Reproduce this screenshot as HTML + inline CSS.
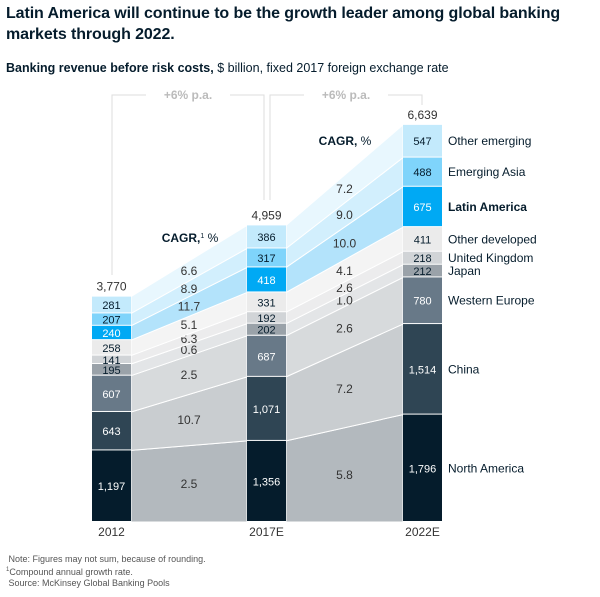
<!DOCTYPE html>
<html><head><meta charset="utf-8"><style>
body{margin:0;background:#fff;font-family:"Liberation Sans",sans-serif;}
</style></head><body>
<div style="position:relative;width:600px;height:597px;overflow:hidden">
<div style="position:absolute;left:6px;top:3px;font-size:16px;letter-spacing:-0.1px;font-weight:bold;color:#051c2c;line-height:21px;width:594px">Latin America will continue to be the growth leader among global banking markets through 2022.</div>
<div style="position:absolute;left:6px;top:61px;font-size:12.5px;color:#051c2c"><b>Banking revenue before risk costs,</b> $ billion, fixed 2017 foreign exchange rate</div>
<svg id="chart" width="600" height="597" style="position:absolute;left:0;top:0" font-family="Liberation Sans, sans-serif"></svg>
<div style="position:absolute;left:6px;top:554px;font-size:9px;color:#555;line-height:11px">&nbsp;Note: Figures may not sum, because of rounding.<br><sup style="font-size:6px">1</sup>Compound annual growth rate.<br>&nbsp;Source: McKinsey Global Banking Pools</div>
</div>
<script>
const years=["2012","2017E","2022E"];
const regions=["North America","China","Western Europe","Japan","United Kingdom","Other developed","Latin America","Emerging Asia","Other emerging"];
const v2012=[1197,643,607,195,141,258,240,207,281];
const v2017=[1356,1071,687,202,192,331,418,317,386];
const v2022=[1796,1514,780,212,218,411,675,488,547];
const totals=["3,770","4,959","6,639"];
const cagr1=["2.5","10.7","2.5","0.6","6.3","5.1","11.7","8.9","6.6"];
const cagr2=["5.8","7.2","2.6","1.0","2.6","4.1","10.0","9.0","7.2"];
const growthLabels=["+6% p.a.","+6% p.a."];
const segColors=["#051c2c","#2f4554","#687988","#9aa2a9","#d1d4d7","#ebebeb","#00a9f4","#7fd4fb","#c3eafc"];
const bandColors=["#b3b9be","#c9cdd0","#d7dadc","#e3e5e7","#ececed","#f4f4f4","#b3e3fb","#d2effd","#e8f7fe"];
const textColors=["#fff","#fff","#fff","#051c2c","#051c2c","#051c2c","#fff","#051c2c","#051c2c"];
const svg=document.getElementById('chart');
const NS="http://www.w3.org/2000/svg";
const base=522, k=397/6639;
const barX=[92,247,403], bw=39;
const y=v=>base-v*k;
function mk(tag,attrs){const e=document.createElementNS(NS,tag);for(const a in attrs)e.setAttribute(a,attrs[a]);svg.appendChild(e);return e;}
function txt(x,yy,s,attrs){const e=mk('text',Object.assign({x:x,y:yy,'font-size':12,fill:'#333','text-anchor':'middle'},attrs||{}));e.textContent=s;return e;}
const data=[v2012,v2017,v2022];
const cum=data.map(a=>{let c=[0];a.forEach(v=>c.push(c[c.length-1]+v));return c;});
for(let p=0;p<2;p++){
 for(let i=0;i<regions.length;i++){
  const x1=barX[p]+bw,x2=barX[p+1];
  const pts=`${x1},${y(cum[p][i])} ${x2},${y(cum[p+1][i])} ${x2},${y(cum[p+1][i+1])} ${x1},${y(cum[p][i+1])}`;
  const b=mk('polygon',{points:pts,fill:bandColors[i],stroke:'#fff','stroke-width':1});
  
  
  const lab=(p==0?cagr1:cagr2)[i];
  const mx=(x1+x2)/2, my=(y(cum[p][i])+y(cum[p][i+1])+y(cum[p+1][i])+y(cum[p+1][i+1]))/4+4;
  const t=txt(mx,my,lab,{'font-size':12,fill:'#333'});
  
  
 }
}
for(let p=0;p<3;p++){
 for(let i=0;i<regions.length;i++){
  const y0=y(cum[p][i+1]),y1=y(cum[p][i]);
  const r=mk('rect',{x:barX[p],y:y0,width:bw,height:Math.max(0,y1-y0-1),fill:segColors[i]});
  
  
  const t=txt(barX[p]+bw/2,(y0+y1)/2+4,data[p][i].toLocaleString('en-US'),{'font-size':11,fill:textColors[i]});
  
  
 }
 const tt=txt(barX[p]+bw/2,y(cum[p][9])-6,totals[p],{'font-size':12});
 
 
 const xl=txt(barX[p]+bw/2,536,years[p],{'font-size':12});
 
 
}
for(let i=0;i<regions.length;i++){
 const t=txt(448,(y(cum[2][i])+y(cum[2][i+1]))/2+4,regions[i],{'text-anchor':'start','font-size':12,fill:'#051c2c','font-weight':regions[i]=="Latin America"?'bold':'normal'});
 
 
}
const br=[[112,275,264,200],[270,200,422,105]];
for(let j=0;j<2;j++){
 const [xa,ya,xb,yb]=br[j], top=95, mid=(xa+xb)/2;
 const pth=mk('path',{d:`M${xa},${ya}V${top}H${mid-42}M${mid+42},${top}H${xb}V${yb}`,stroke:'#ddd',fill:'none','stroke-width':1});
 
 
 const t=txt(mid,99,growthLabels[j],{'font-size':12,fill:'#bbb','font-weight':'bold'});
 
 
}
const c1=txt(190,242,'',{'font-size':12,fill:'#051c2c'});c1.innerHTML='<tspan font-weight="bold">CAGR,</tspan><tspan font-size="7" dy="-4">1</tspan><tspan dy="4"> %</tspan>';


const c2=txt(345,145,'',{'font-size':12,fill:'#051c2c'});c2.innerHTML='<tspan font-weight="bold">CAGR,</tspan> %';


</script>
</body></html>
